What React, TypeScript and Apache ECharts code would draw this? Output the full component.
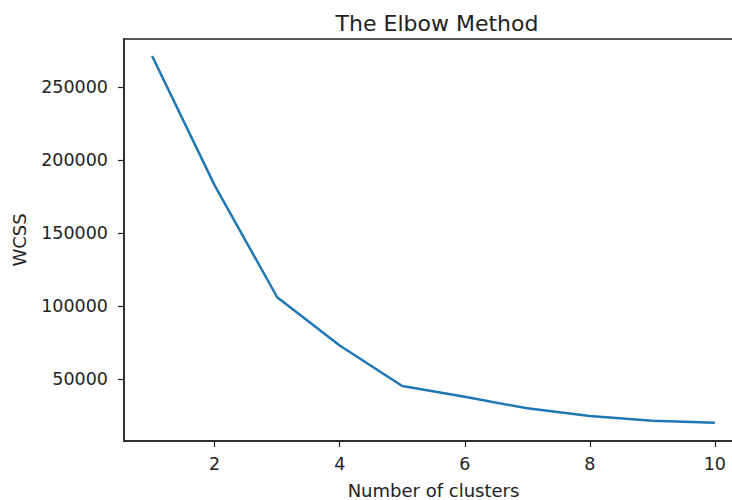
import React, { useEffect, useRef } from "react";
import * as echarts from "echarts";

const clusters = [1, 2, 3, 4, 5, 6, 7, 8, 9, 10];
const wcss = [271400, 182800, 106200, 73100, 45400, 38000, 30100, 24900, 21600, 20300];
const xTicks = [2, 4, 6, 8, 10];
const yTicks = [50000, 100000, 150000, 200000, 250000];

const FONT = "DejaVu Sans";

export default function App() {
  const ref = useRef<HTMLDivElement>(null);
  useEffect(() => {
    if (!ref.current) return;
    const chart = echarts.init(ref.current, undefined, { renderer: "svg" });
    chart.setOption({
      animation: false,
      backgroundColor: "#ffffff",
      title: {
        text: "The Elbow Method",
        left: 432,
        top: 7,
        textAlign: "center",
        textStyle: { fontFamily: FONT, fontSize: 22, fontWeight: "normal", color: "#222" },
      },
      grid: {
        left: 124,
        top: 39,
        width: 619,
        height: 402,
        containLabel: false,
        outerBoundsMode: "none",
        show: true,
        borderColor: "#222",
        borderWidth: 1.5,
      },
      xAxis: {
        type: "value",
        min: 0.55,
        max: 10.45,
        name: "Number of clusters",
        nameLocation: "middle",
        nameGap: 40,
        nameTextStyle: { fontFamily: FONT, fontSize: 18, color: "#222" },
        axisLine: { show: true, lineStyle: { color: "#222", width: 1.5 } },
        axisTick: { show: true, length: 6, lineStyle: { color: "#222", width: 1.2 }, customValues: xTicks },
        axisLabel: { fontFamily: FONT, fontSize: 17.5, color: "#222", margin: 14, customValues: xTicks, formatter: (v: number) => String(v) },
        splitLine: { show: false },
      },
      yAxis: {
        type: "value",
        min: 7740,
        max: 283080,
        name: "WCSS",
        nameLocation: "middle",
        nameGap: 96,
        nameTextStyle: { fontFamily: FONT, fontSize: 18, color: "#222" },
        axisLine: { show: true, lineStyle: { color: "#222", width: 1.5 } },
        axisTick: { show: true, length: 6, lineStyle: { color: "#222", width: 1.2 }, customValues: yTicks },
        axisLabel: { fontFamily: FONT, fontSize: 17.5, color: "#222", margin: 16, customValues: yTicks, formatter: (v: number) => String(v) },
        splitLine: { show: false },
      },
      series: [
        {
          type: "line",
          data: clusters.map((c, i) => [c, wcss[i]]),
          showSymbol: false,
          lineStyle: { color: "#1f77b4", width: 2.5 },
        },
      ],
    });
    return () => chart.dispose();
  }, []);
  return <div ref={ref} style={{ position: "fixed", left: 0, top: 0, width: 732, height: 500 }} />;
}
